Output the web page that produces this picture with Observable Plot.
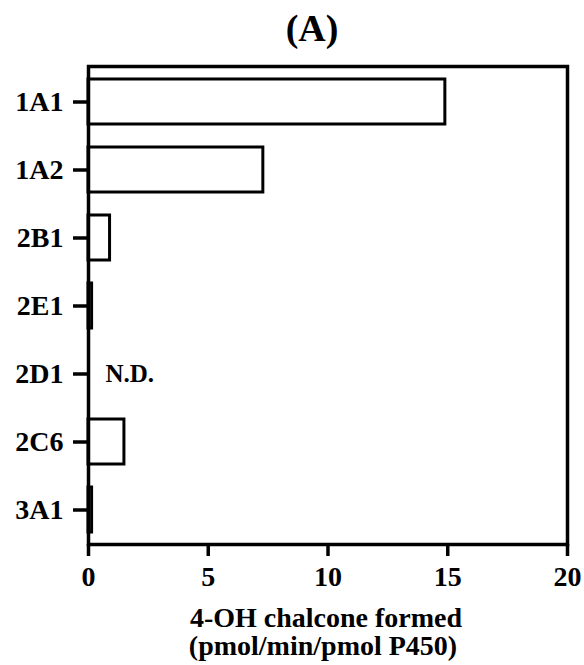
<!DOCTYPE html>
<html>
<head>
<meta charset="utf-8">
<script src="https://cdn.jsdelivr.net/npm/d3@7"></script>
<script src="https://cdn.jsdelivr.net/npm/@observablehq/plot@0.6"></script>
<style>
  html, body { margin: 0; padding: 0; background: #fff; }
  #chart svg { display: block; }
  #chart svg text { font-family: 'Liberation Serif', 'Times New Roman', serif; font-weight: bold; }
  #chart svg g[aria-label="x-axis tick"],
  #chart svg g[aria-label="y-axis tick"],
  #chart svg g[aria-label="x-axis tick"] path,
  #chart svg g[aria-label="y-axis tick"] path,
  #chart svg g[aria-label="x-axis tick"] line,
  #chart svg g[aria-label="y-axis tick"] line { stroke-width: 3.5px !important; stroke: #000 !important; }
</style>
</head>
<body>
<div id="chart"></div>
<script>
const categories = ["1A1", "1A2", "2B1", "2E1", "2D1", "2C6", "3A1"];
const values = [14.9, 7.3, 0.9, 0.15, 0, 1.5, 0.15];
const notDetected = ["2D1"];
const xTicks = [0, 5, 10, 15, 20];
const title = "(A)";
const xLabel = ["4-OH chalcone formed", "(pmol/min/pmol P450)"];

const data = categories.map((c, i) => ({category: c, value: values[i]}));
const font = "'Liberation Serif', 'Times New Roman', serif";

const chart = Plot.plot({
  width: 584,
  height: 665,
  marginLeft: 88,
  marginRight: 17,
  marginTop: 66,
  marginBottom: 121,
  style: {fontFamily: font, fontWeight: "bold", fontSize: "28px", color: "black", background: "white"},
  x: {domain: [0, 20], ticks: xTicks, label: null},
  y: {domain: categories, paddingInner: 0.34, paddingOuter: 0.17, label: null},
  marks: [
    Plot.barX(data.filter(d => d.value > 0), {x: "value", y: "category", fill: "white", stroke: "black", strokeWidth: 3}),
    Plot.frame({stroke: "black", strokeWidth: 3.5}),
    Plot.axisX({ticks: xTicks, tickSize: 12, tickPadding: 10, strokeWidth: 3.5, fontSize: 28, fontWeight: "bold", label: null}),
    Plot.axisY({tickSize: 15, tickPadding: 10, strokeWidth: 3.5, fontSize: 28, fontWeight: "bold", label: null}),
    Plot.text(notDetected, {x: () => 0, y: d => d, text: () => "N.D.", textAnchor: "start", dx: 17, fontSize: 25, fontWeight: "bold"}),
    Plot.text([title], {frameAnchor: "top", text: d => d, dx: -16, dy: -38, fontSize: 38, fontWeight: "bold", lineAnchor: "middle"}),
    Plot.text([xLabel[0]], {frameAnchor: "bottom", text: d => d, dx: -2, dy: 73.5, fontSize: 28, fontWeight: "bold", lineAnchor: "middle"}),
    Plot.text([xLabel[1]], {frameAnchor: "bottom", text: d => d, dx: -5, dy: 101.5, fontSize: 28, fontWeight: "bold", lineAnchor: "middle"})
  ]
});
document.getElementById("chart").appendChild(chart);
</script>
</body>
</html>
